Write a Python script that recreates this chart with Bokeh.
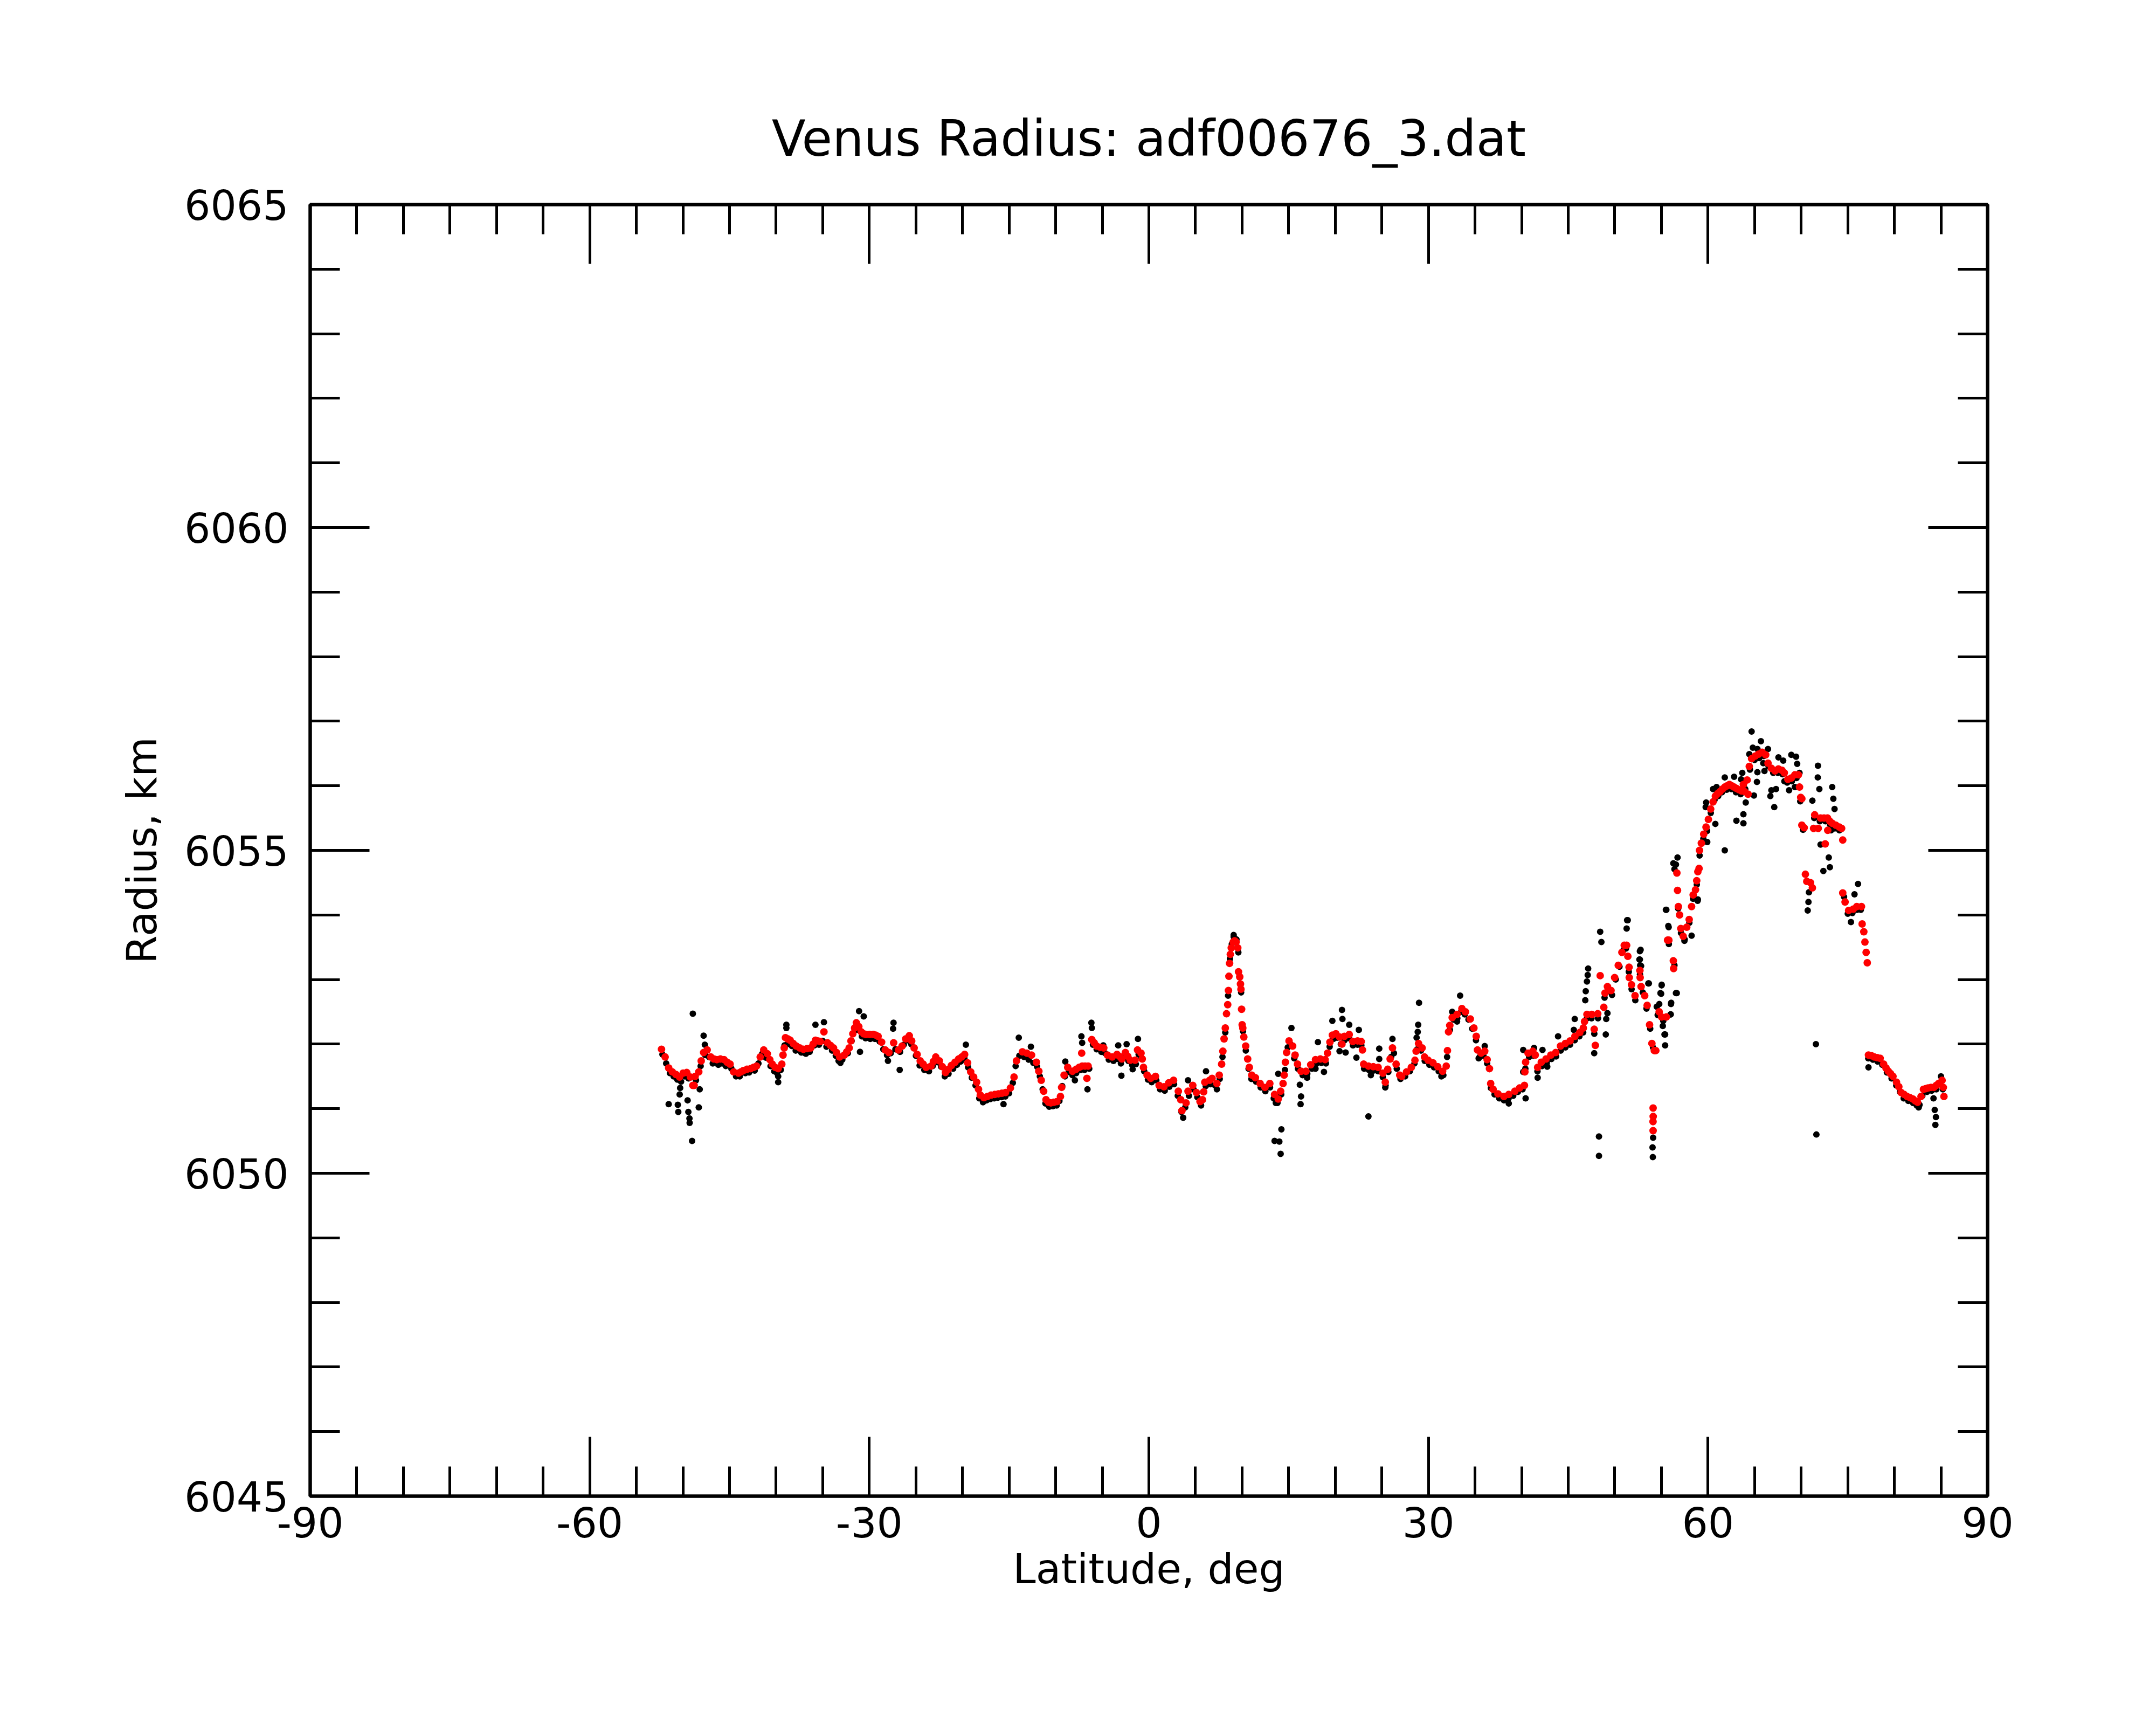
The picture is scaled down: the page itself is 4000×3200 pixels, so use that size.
from bokeh.plotting import figure
from bokeh.models import FixedTicker, LinearAxis, Range1d
from bokeh.embed import file_html
from bokeh.resources import INLINE

TITLE = "Venus Radius: adf00676_3.dat"
X_LABEL = "Latitude, deg"
Y_LABEL = "Radius, km"
x_major = [-90, -60, -30, 0, 30, 60, 90]
x_major_text = ["-90", "-60", "-30", "0", "30", "60", "90"]
x_minor = [-90, -85, -80, -75, -70, -65, -60, -55, -50, -45, -40, -35, -30, -25, -20, -15, -10, -5,
           0, 5, 10, 15, 20, 25, 30, 35, 40, 45, 50, 55, 60, 65, 70, 75, 80, 85, 90]
y_major = [6045, 6050, 6055, 6060, 6065]
y_major_text = ["6045", "6050", "6055", "6060", "6065"]
y_minor = [6045, 6046, 6047, 6048, 6049, 6050, 6051, 6052, 6053, 6054, 6055, 6056, 6057, 6058, 6059,
           6060, 6061, 6062, 6063, 6064, 6065]

# red (smoothed) series, latitude / radius pairs, split by region
red_south = [
    (-52.30, 6051.92), (-51.91, 6051.80), (-51.53, 6051.63), (-51.14, 6051.57), (-50.75, 6051.53),
    (-50.36, 6051.49), (-49.98, 6051.55), (-49.59, 6051.56), (-49.20, 6051.49), (-48.94, 6051.36),
    (-48.80, 6051.36), (-48.69, 6051.50), (-48.30, 6051.57), (-48.04, 6051.74), (-47.78, 6051.87),
    (-47.40, 6051.91), (-47.01, 6051.80), (-46.68, 6051.77), (-46.36, 6051.76), (-45.98, 6051.77),
    (-45.59, 6051.76), (-45.26, 6051.72), (-44.94, 6051.69), (-44.56, 6051.57), (-44.04, 6051.55),
    (-43.78, 6051.57), (-43.52, 6051.59), (-43.13, 6051.61), (-42.75, 6051.62), (-42.42, 6051.64),
    (-42.10, 6051.66), (-41.71, 6051.80), (-41.33, 6051.91), (-40.94, 6051.85), (-40.68, 6051.76),
    (-40.42, 6051.69), (-40.10, 6051.64), (-39.78, 6051.62), (-39.39, 6051.69), (-39.26, 6051.83),
    (-39.13, 6051.94), (-39.00, 6052.10), (-38.75, 6052.08), (-38.49, 6052.06), (-38.17, 6052.01),
    (-37.84, 6051.97), (-37.46, 6051.94), (-37.07, 6051.92), (-36.68, 6051.93), (-36.29, 6051.94),
    (-36.03, 6052.00), (-35.78, 6052.06), (-35.52, 6052.05), (-35.26, 6052.04), (-34.87, 6052.19),
    (-34.49, 6052.02), (-34.17, 6051.98), (-33.84, 6051.94), (-33.52, 6051.87), (-33.19, 6051.80),
    (-32.68, 6051.83), (-32.42, 6051.88), (-32.16, 6051.94), (-31.97, 6052.05), (-31.77, 6052.16),
    (-31.58, 6052.25), (-31.39, 6052.33), (-31.13, 6052.27), (-30.87, 6052.19), (-30.61, 6052.16),
    (-30.35, 6052.15), (-29.97, 6052.15), (-29.58, 6052.15), (-29.32, 6052.14), (-29.06, 6052.12),
    (-28.68, 6052.03), (-28.29, 6051.91), (-27.90, 6051.87), (-27.39, 6052.02), (-26.87, 6051.91),
    (-26.48, 6051.97), (-26.09, 6052.08), (-25.71, 6052.13), (-25.45, 6052.05), (-25.19, 6051.94),
    (-24.87, 6051.84), (-24.54, 6051.74), (-24.22, 6051.69), (-23.90, 6051.64), (-23.38, 6051.66),
    (-23.12, 6051.73), (-22.87, 6051.80), (-22.48, 6051.74), (-22.16, 6051.65), (-21.83, 6051.56),
    (-21.51, 6051.61), (-21.19, 6051.67), (-20.80, 6051.72), (-20.41, 6051.77), (-20.09, 6051.80),
    (-19.77, 6051.84), (-19.45, 6051.71), (-19.12, 6051.57), (-18.80, 6051.49), (-18.48, 6051.41),
    (-18.28, 6051.30), (-18.09, 6051.21), (-17.70, 6051.17), (-17.32, 6051.19), (-16.93, 6051.21),
    (-16.54, 6051.22), (-16.15, 6051.23), (-15.77, 6051.24), (-15.38, 6051.25), (-14.86, 6051.32),
    (-14.47, 6051.49), (-14.21, 6051.74), (-13.57, 6051.88),
]
red_equator = [
    (-13.10, 6051.86), (-12.59, 6051.83), (-12.07, 6051.72), (-11.81, 6051.58), (-11.55, 6051.44),
    (-11.29, 6051.27), (-11.04, 6051.14), (-10.78, 6051.10), (-10.52, 6051.09), (-10.20, 6051.10),
    (-9.87, 6051.11), (-9.49, 6051.19), (-9.36, 6051.33), (-9.10, 6051.52), (-8.71, 6051.64),
    (-8.20, 6051.58), (-7.81, 6051.61), (-7.48, 6051.64), (-7.21, 6051.86), (-7.16, 6051.66),
    (-6.85, 6051.66), (-6.65, 6051.47), (-6.52, 6051.66), (-6.13, 6052.07), (-5.87, 6052.02),
    (-5.61, 6051.97), (-5.22, 6051.95), (-4.84, 6051.94), (-4.45, 6051.83), (-3.94, 6051.80),
    (-3.42, 6051.84), (-3.16, 6051.81), (-2.90, 6051.77), (-2.52, 6051.87), (-2.26, 6051.81),
    (-2.00, 6051.75), (-1.48, 6051.75), (-1.22, 6051.91), (-0.84, 6051.86), (-0.71, 6051.77),
    (-0.58, 6051.64), (-0.19, 6051.52), (0.20, 6051.47), (0.71, 6051.50), (1.10, 6051.36),
    (1.62, 6051.34), (2.13, 6051.40), (2.65, 6051.44), (3.16, 6051.27), (3.42, 6051.14),
    (3.55, 6050.97), (3.99, 6051.09), (4.20, 6051.27), (4.71, 6051.36), (5.10, 6051.25),
    (5.49, 6051.11), (5.75, 6051.14), (5.88, 6051.26), (6.00, 6051.41), (6.52, 6051.44),
    (6.78, 6051.47), (7.30, 6051.39), (7.55, 6051.52), (7.81, 6051.69), (7.94, 6051.89),
    (8.07, 6052.08), (8.20, 6052.25), (8.33, 6052.47), (8.46, 6052.61), (8.54, 6052.83),
    (8.59, 6053.05), (8.66, 6053.25), (8.74, 6053.39), (8.84, 6053.49), (9.05, 6053.58),
    (9.20, 6053.60), (9.36, 6053.58), (9.54, 6053.49), (9.62, 6053.12), (9.75, 6053.04),
    (9.83, 6052.93), (9.88, 6052.85), (9.95, 6052.54), (10.01, 6052.30), (10.08, 6052.25),
    (10.19, 6052.11), (10.39, 6051.97), (10.60, 6051.77), (10.78, 6051.64), (11.04, 6051.52),
    (11.43, 6051.48), (11.94, 6051.39), (12.46, 6051.33), (12.98, 6051.39), (13.49, 6051.22),
    (13.88, 6051.15), (14.14, 6051.27), (14.40, 6051.39), (14.52, 6051.52), (14.65, 6051.72),
    (14.78, 6051.87), (15.04, 6052.05), (15.43, 6051.97), (15.69, 6051.83), (15.95, 6051.69),
    (16.33, 6051.58), (16.85, 6051.58), (17.37, 6051.68), (17.88, 6051.76), (18.40, 6051.77),
    (18.91, 6051.76), (19.17, 6051.86), (19.43, 6052.03), (19.69, 6052.14), (20.07, 6052.16),
    (20.46, 6052.11), (20.72, 6052.00), (20.98, 6052.12), (21.50, 6052.15), (21.88, 6052.04),
    (22.40, 6052.05), (22.79, 6052.04), (22.92, 6051.91), (23.05, 6051.69), (23.56, 6051.66),
    (24.08, 6051.65), (24.60, 6051.64), (25.11, 6051.55), (25.37, 6051.41), (25.63, 6051.61),
    (25.89, 6051.77), (26.14, 6051.94), (26.53, 6051.69), (26.92, 6051.52),
]
red_mid_north = [
    (27.13, 6051.50), (27.65, 6051.57), (28.16, 6051.64), (28.55, 6051.75), (28.68, 6051.89),
    (28.94, 6052.01), (29.32, 6051.94), (29.58, 6051.80), (29.97, 6051.75), (30.49, 6051.71),
    (31.00, 6051.65), (31.52, 6051.58), (31.91, 6051.66), (32.04, 6051.90), (32.16, 6052.19),
    (32.29, 6052.29), (32.55, 6052.41), (33.07, 6052.46), (33.59, 6052.55), (33.97, 6052.50),
    (34.49, 6052.39), (34.88, 6052.25), (35.13, 6052.12), (35.26, 6051.91), (35.65, 6051.86),
    (36.04, 6051.89), (36.30, 6051.76), (36.55, 6051.62), (36.68, 6051.39), (36.94, 6051.30),
    (37.46, 6051.23), (38.10, 6051.19), (38.62, 6051.22), (39.27, 6051.27), (39.78, 6051.32),
    (40.30, 6051.36), (40.35, 6051.57), (40.43, 6051.72), (40.69, 6051.86), (41.20, 6051.89),
    (41.46, 6051.83), (41.72, 6051.64), (42.11, 6051.72), (42.62, 6051.77), (43.14, 6051.83),
    (43.66, 6051.87), (44.17, 6051.97), (44.69, 6052.01), (45.20, 6052.05), (45.72, 6052.12),
    (46.24, 6052.18), (46.62, 6052.25), (46.75, 6052.35), (47.01, 6052.46), (47.53, 6052.46),
    (47.79, 6052.23), (47.91, 6051.98), (48.17, 6052.47), (48.43, 6053.06), (48.82, 6052.57),
    (48.95, 6052.79), (49.21, 6052.89), (49.59, 6052.83), (49.98, 6053.03), (50.37, 6053.22),
    (50.76, 6053.42), (51.01, 6053.53), (51.27, 6053.53), (51.40, 6053.36), (51.53, 6053.19),
    (51.55, 6053.03), (51.79, 6052.92), (52.17, 6052.75), (52.69, 6053.14), (52.72, 6053.03),
    (52.82, 6052.89), (53.21, 6052.75), (53.47, 6052.60), (53.73, 6052.30), (53.98, 6052.01),
    (54.11, 6051.01), (54.12, 6050.88), (54.10, 6050.80), (54.11, 6050.66), (54.24, 6051.90),
    (54.40, 6051.90), (54.76, 6052.50), (55.02, 6052.42), (55.53, 6052.42),
]
red_north = [
    (55.66, 6053.61), (55.80, 6053.61), (56.28, 6053.29), (56.31, 6053.17), (56.66, 6054.65),
    (56.73, 6054.38), (56.82, 6054.13), (56.95, 6054.00), (57.08, 6053.79), (57.34, 6053.67),
    (57.72, 6053.81), (57.98, 6053.93), (58.24, 6054.13), (58.41, 6054.31), (58.66, 6054.39),
    (58.79, 6054.53), (58.91, 6054.67), (59.04, 6054.72), (59.09, 6055.00), (59.29, 6055.11),
    (59.54, 6055.25), (59.79, 6055.36), (60.04, 6055.48), (60.29, 6055.64), (60.54, 6055.75),
    (60.79, 6055.84), (61.04, 6055.88), (61.29, 6055.91), (61.55, 6055.95), (61.80, 6055.98),
    (62.05, 6056.00), (62.30, 6056.02), (62.55, 6056.00), (62.80, 6055.98), (63.05, 6055.96),
    (63.30, 6055.94), (63.60, 6055.92), (63.80, 6056.02), (63.93, 6055.91), (64.20, 6056.09),
    (64.30, 6055.87), (64.43, 6056.30), (64.68, 6056.42), (65.06, 6056.46), (65.43, 6056.49),
    (65.81, 6056.52), (66.19, 6056.48), (66.44, 6056.35), (66.81, 6056.27), (67.19, 6056.23),
    (67.56, 6056.26), (67.94, 6056.24), (68.19, 6056.20), (68.57, 6056.10), (68.94, 6056.12),
    (69.32, 6056.17), (69.70, 6056.17), (69.82, 6055.98), (69.95, 6055.82), (70.07, 6055.80),
    (70.07, 6055.39), (70.32, 6055.35), (70.45, 6054.63), (70.60, 6054.52), (71.00, 6054.50),
    (71.20, 6054.42), (71.33, 6055.34), (71.45, 6055.55), (71.83, 6055.34), (72.08, 6055.50),
    (72.45, 6055.50), (72.58, 6055.10), (72.83, 6055.50), (72.85, 6055.31), (73.08, 6055.45),
    (73.33, 6055.42), (73.71, 6055.39), (74.09, 6055.36), (74.34, 6055.34), (74.46, 6055.16),
    (74.46, 6054.34), (74.71, 6054.20), (75.09, 6054.07), (75.59, 6054.09), (75.97, 6054.13),
    (76.47, 6054.13), (76.54, 6053.86), (76.72, 6053.74), (76.84, 6053.58), (76.97, 6053.42),
    (77.09, 6053.26),
]
red_polar = [
    (77.22, 6051.83), (77.55, 6051.82), (77.85, 6051.80), (78.15, 6051.79), (78.47, 6051.78),
    (78.85, 6051.69), (79.10, 6051.63), (79.35, 6051.58), (79.60, 6051.54), (79.85, 6051.50),
    (80.23, 6051.41), (80.48, 6051.34), (80.73, 6051.25), (81.05, 6051.22), (81.36, 6051.19),
    (81.68, 6051.17), (81.99, 6051.15), (82.25, 6051.12), (82.49, 6051.10), (82.86, 6051.19),
    (83.12, 6051.30), (83.38, 6051.31), (83.62, 6051.32), (83.93, 6051.33), (84.24, 6051.33),
    (84.50, 6051.36), (84.74, 6051.39), (85.12, 6051.44), (85.25, 6051.33), (85.32, 6051.19),
]

# black (raw) series
black_band_south = [
    (-52.2, 6051.84), (-51.8, 6051.70), (-51.4, 6051.55), (-51.0, 6051.50), (-50.6, 6051.45),
    (-50.2, 6051.42), (-49.8, 6051.50), (-49.4, 6051.47), (-48.6, 6051.44), (-48.1, 6051.66),
    (-47.6, 6051.83), (-47.2, 6051.80), (-46.8, 6051.70), (-46.2, 6051.68), (-45.8, 6051.70),
    (-45.4, 6051.66), (-44.8, 6051.62), (-44.3, 6051.50), (-43.9, 6051.50), (-43.3, 6051.55),
    (-42.9, 6051.56), (-42.3, 6051.59), (-41.9, 6051.70), (-41.5, 6051.85), (-41.1, 6051.79),
    (-40.6, 6051.66), (-40.2, 6051.58), (-39.9, 6051.55), (-39.5, 6051.60), (-39.1, 6051.98),
    (-38.8, 6052.00), (-38.3, 6051.97), (-37.9, 6051.90), (-37.3, 6051.87), (-36.9, 6051.86),
    (-36.4, 6051.88), (-35.9, 6051.98), (-35.4, 6051.99), (-35.0, 6052.05), (-34.6, 6051.96),
    (-34.0, 6051.90), (-33.6, 6051.82), (-33.3, 6051.74), (-32.9, 6051.76), (-32.3, 6051.86),
    (-31.9, 6052.05), (-31.5, 6052.22), (-31.2, 6052.22), (-30.8, 6052.12), (-30.4, 6052.09),
    (-29.9, 6052.08), (-29.4, 6052.08), (-28.9, 6052.04), (-28.5, 6051.92), (-28.1, 6051.83),
    (-27.7, 6051.86), (-27.2, 6051.92), (-26.7, 6051.88), (-26.3, 6051.99), (-25.9, 6052.06),
    (-25.5, 6052.00), (-25.0, 6051.82), (-24.6, 6051.67), (-24.1, 6051.60), (-23.6, 6051.58),
    (-23.2, 6051.66), (-22.7, 6051.72), (-22.3, 6051.65), (-21.9, 6051.50), (-21.5, 6051.54),
    (-21.0, 6051.62), (-20.6, 6051.68), (-20.2, 6051.73), (-19.8, 6051.78), (-19.4, 6051.64),
    (-19.0, 6051.48), (-18.6, 6051.36), (-18.2, 6051.16), (-17.8, 6051.10), (-17.4, 6051.13),
    (-17.0, 6051.15), (-16.6, 6051.16), (-16.2, 6051.17), (-15.8, 6051.18), (-15.4, 6051.19),
    (-15.0, 6051.24), (-14.6, 6051.40), (-14.3, 6051.66), (-13.9, 6051.82),
]
black_band_equator = [
    (-13.4, 6051.80), (-12.9, 6051.76), (-12.4, 6051.71), (-12.0, 6051.65), (-11.7, 6051.50),
    (-11.4, 6051.30), (-11.1, 6051.08), (-10.7, 6051.03), (-10.3, 6051.04), (-9.9, 6051.05),
    (-9.6, 6051.12), (-9.3, 6051.35), (-9.0, 6051.50), (-8.6, 6051.57), (-8.2, 6051.52),
    (-7.8, 6051.55), (-7.3, 6051.60), (-6.9, 6051.60), (-6.4, 6051.62), (-6.0, 6051.99),
    (-5.6, 6051.92), (-5.1, 6051.88), (-4.7, 6051.86), (-4.3, 6051.76), (-3.8, 6051.74),
    (-3.4, 6051.77), (-3.0, 6051.70), (-2.6, 6051.80), (-2.2, 6051.74), (-1.8, 6051.68),
    (-1.4, 6051.69), (-1.1, 6051.84), (-0.8, 6051.79), (-0.5, 6051.58), (-0.1, 6051.45),
    (0.3, 6051.41), (0.8, 6051.44), (1.2, 6051.30), (1.7, 6051.28), (2.2, 6051.34),
    (2.7, 6051.38), (3.1, 6051.20), (3.5, 6050.95), (3.9, 6051.02), (4.3, 6051.20),
    (4.8, 6051.30), (5.2, 6051.18), (5.6, 6051.05), (6.1, 6051.35), (6.6, 6051.38),
    (7.1, 6051.36), (7.6, 6051.46), (7.9, 6051.80), (8.2, 6052.18), (8.5, 6052.75),
    (8.7, 6053.32), (8.9, 6053.55), (9.1, 6053.66), (9.4, 6053.62), (9.6, 6053.42),
    (9.9, 6052.80), (10.1, 6052.20), (10.4, 6051.90), (10.7, 6051.62), (11.0, 6051.46),
    (11.5, 6051.42), (12.0, 6051.33), (12.5, 6051.27), (13.0, 6051.33), (13.4, 6051.16),
    (13.8, 6051.09), (14.2, 6051.22), (14.6, 6051.60), (14.9, 6051.95), (15.2, 6052.00),
    (15.6, 6051.78), (16.0, 6051.62), (16.5, 6051.52), (17.0, 6051.54), (17.5, 6051.62),
    (18.0, 6051.70), (18.5, 6051.71), (19.0, 6051.70), (19.4, 6051.96), (19.8, 6052.08),
    (20.2, 6052.10), (20.6, 6052.00), (21.0, 6052.06), (21.5, 6052.09), (21.9, 6051.98),
    (22.4, 6051.99), (22.8, 6051.98), (23.1, 6051.62), (23.6, 6051.60), (24.1, 6051.59),
    (24.6, 6051.58), (25.1, 6051.49), (25.4, 6051.36), (25.7, 6051.57), (26.0, 6051.80),
    (26.3, 6051.86), (26.6, 6051.62),
]
black_band_north = [
    (27.0, 6051.46), (27.5, 6051.50), (28.0, 6051.58), (28.5, 6051.70), (28.8, 6051.92),
    (29.2, 6051.90), (29.6, 6051.74), (30.1, 6051.68), (30.6, 6051.64), (31.1, 6051.58),
    (31.6, 6051.52), (32.0, 6051.80), (32.3, 6052.22), (32.7, 6052.38), (33.1, 6052.40),
    (33.5, 6052.50), (33.9, 6052.46), (34.3, 6052.38), (34.7, 6052.24), (35.1, 6052.06),
    (35.5, 6051.80), (35.9, 6051.82), (36.3, 6051.70), (36.7, 6051.32), (37.1, 6051.22),
    (37.6, 6051.16), (38.1, 6051.13), (38.6, 6051.16), (39.1, 6051.20), (39.6, 6051.26),
    (40.1, 6051.30), (40.4, 6051.62), (40.8, 6051.80), (41.3, 6051.82), (41.7, 6051.58),
    (42.2, 6051.66), (42.7, 6051.71), (43.2, 6051.77), (43.7, 6051.81), (44.2, 6051.90),
    (44.7, 6051.95), (45.2, 6051.99), (45.7, 6052.06), (46.2, 6052.12), (46.6, 6052.18),
    (47.0, 6052.40), (47.5, 6052.40), (47.8, 6052.16), (48.2, 6052.40), (48.9, 6052.72),
    (49.3, 6052.82), (49.7, 6052.76), (50.1, 6053.00), (50.5, 6053.20), (50.9, 6053.45),
    (51.2, 6053.48), (51.5, 6053.12), (51.8, 6052.85), (52.2, 6052.68), (52.7, 6053.08),
    (53.0, 6052.80), (53.4, 6052.55), (53.8, 6052.24), (54.1, 6051.95), (54.6, 6052.45),
    (55.2, 6052.36), (55.8, 6053.55), (56.4, 6053.22), (56.8, 6054.10), (57.1, 6053.72),
    (57.5, 6053.62), (58.0, 6053.88), (58.4, 6054.25), (58.8, 6054.47), (59.1, 6054.92),
    (59.5, 6055.18), (59.9, 6055.30), (60.3, 6055.58), (60.7, 6055.78), (61.1, 6055.84),
    (61.5, 6055.90), (62.0, 6055.94), (62.5, 6055.95), (63.0, 6055.90), (63.5, 6055.87),
    (64.0, 6055.95), (64.5, 6056.25), (65.0, 6056.40), (65.5, 6056.43), (66.0, 6056.46),
    (66.5, 6056.30), (67.0, 6056.20), (67.5, 6056.20), (68.0, 6056.18), (68.5, 6056.05),
    (69.0, 6056.07), (69.5, 6056.12), (69.9, 6055.76), (70.2, 6055.32), (71.4, 6055.50),
    (72.0, 6055.45), (72.6, 6055.45), (73.1, 6055.40), (73.6, 6055.34), (74.1, 6055.31),
    (74.6, 6054.28), (75.0, 6054.02), (75.5, 6054.03), (76.0, 6054.08), (76.4, 6054.08),
    (77.2, 6051.78), (77.7, 6051.76), (78.2, 6051.73), (78.7, 6051.68), (79.2, 6051.56),
    (79.7, 6051.47), (80.2, 6051.36), (80.6, 6051.26), (81.0, 6051.16), (81.5, 6051.12),
    (82.0, 6051.09), (82.4, 6051.05), (82.7, 6051.06), (83.0, 6051.20), (83.5, 6051.26),
    (84.0, 6051.28), (84.5, 6051.30), (84.9, 6051.38), (85.2, 6051.30),
]
black_outliers_south = [
    (-48.94, 6052.47), (-51.53, 6051.07), (-50.55, 6051.06), (-50.50, 6050.95), (-50.30, 6051.32),
    (-50.35, 6051.22), (-49.50, 6051.13), (-49.42, 6050.95), (-49.30, 6050.85), (-49.28, 6050.78),
    (-49.02, 6050.50), (-48.20, 6051.30), (-48.30, 6051.02), (-47.78, 6052.13), (-47.65, 6051.99),
    (-39.78, 6051.50), (-39.78, 6051.41), (-38.90, 6052.30), (-38.90, 6052.25), (-35.78, 6052.30),
    (-34.87, 6052.34), (-31.10, 6052.51), (-30.60, 6052.43), (-27.40, 6052.33), (-27.45, 6052.24),
    (-26.74, 6051.60), (-31.00, 6051.88), (-19.64, 6051.99), (-15.60, 6051.07), (-13.96, 6052.10),
    (-28.00, 6051.74), (-33.10, 6051.71), (-36.80, 6051.85),
]
black_outliers_equator = [
    (-12.66, 6051.96), (-8.97, 6051.73), (-7.94, 6051.44), (-7.24, 6052.12), (-7.16, 6052.02),
    (-6.59, 6051.30), (-6.17, 6052.33), (-6.12, 6052.25), (-4.89, 6051.98), (-3.29, 6051.98),
    (-2.95, 6051.51), (-2.39, 6052.00), (-1.74, 6051.61), (-1.17, 6052.08), (3.68, 6050.86),
    (4.20, 6051.44), (6.13, 6051.58), (7.30, 6051.30), (9.10, 6053.69), (13.62, 6051.09),
    (13.88, 6051.54), (14.22, 6050.68), (13.49, 6050.50), (14.00, 6050.49), (14.14, 6050.30),
    (15.30, 6052.25), (16.20, 6051.37), (16.33, 6051.19), (16.28, 6051.07), (16.98, 6051.48),
    (17.88, 6051.62), (18.14, 6052.03), (18.79, 6051.57), (19.69, 6052.36), (20.46, 6051.89),
    (20.72, 6052.53), (20.77, 6052.39), (21.50, 6052.30), (21.11, 6051.87), (22.27, 6051.79),
    (22.53, 6052.22), (23.56, 6050.88), (23.82, 6051.52), (24.72, 6051.93), (24.72, 6051.77),
    (25.37, 6051.33), (26.14, 6052.08),
]
black_outliers_north = [
    (28.99, 6052.64), (28.90, 6052.30), (28.85, 6052.19), (28.73, 6052.10), (31.39, 6051.50),
    (33.40, 6052.75), (32.55, 6052.50), (33.07, 6052.35), (36.04, 6051.97), (35.39, 6051.78),
    (38.62, 6051.08), (40.43, 6051.16), (40.17, 6051.91), (41.33, 6051.94), (42.24, 6051.91),
    (40.17, 6051.57), (41.72, 6051.48), (42.75, 6051.65), (43.91, 6052.12), (45.70, 6052.39),
    (45.60, 6052.22), (47.14, 6053.17), (47.09, 6053.07), (47.01, 6052.97), (46.88, 6052.82),
    (46.83, 6052.68), (47.79, 6051.86), (48.43, 6053.74), (48.56, 6053.58), (48.30, 6050.57),
    (48.30, 6050.27), (49.21, 6052.48), (49.08, 6052.39), (49.03, 6052.15), (51.32, 6053.92),
    (51.27, 6053.79), (52.69, 6053.44), (52.69, 6053.31), (52.82, 6053.21), (53.60, 6052.94),
    (54.50, 6052.58), (55.02, 6052.91), (54.97, 6052.78), (55.15, 6052.28), (55.33, 6052.15),
    (55.40, 6051.98), (56.05, 6052.64), (56.00, 6052.46), (56.56, 6052.79), (54.11, 6050.55),
    (54.05, 6050.40), (54.08, 6050.25), (55.53, 6054.08), (55.74, 6053.83), (57.47, 6053.60),
    (58.24, 6053.68), (58.89, 6054.22), (56.56, 6054.78), (53.65, 6052.94), (55.03, 6052.92),
    (56.65, 6052.79), (56.03, 6052.62), (55.98, 6052.46), (55.40, 6052.15), (54.90, 6052.79),
    (54.77, 6052.62),
]
black_outliers_polar = [
    (64.68, 6056.84), (65.68, 6056.69), (64.81, 6056.59), (66.44, 6056.57), (64.43, 6056.49),
    (65.31, 6056.57), (65.93, 6056.35), (65.30, 6056.21), (65.25, 6056.06), (66.06, 6056.23),
    (67.56, 6056.44), (68.07, 6056.39), (68.94, 6056.48), (69.45, 6056.45), (69.57, 6056.34),
    (69.82, 6056.20), (68.20, 6056.07), (68.70, 6055.93), (69.32, 6055.98), (66.80, 6055.93),
    (67.30, 6055.95), (66.69, 6055.84), (67.11, 6055.67), (61.80, 6056.13), (62.80, 6056.14),
    (63.68, 6056.20), (63.55, 6056.10), (60.54, 6055.95), (60.92, 6055.98), (59.80, 6055.74),
    (59.75, 6055.67), (64.05, 6055.74), (64.93, 6055.85), (63.80, 6055.56), (63.05, 6055.46),
    (63.80, 6055.42), (60.79, 6055.41), (59.92, 6055.13), (61.80, 6055.00), (71.80, 6056.31),
    (71.78, 6056.13), (71.95, 6055.95), (71.20, 6055.77), (73.33, 6055.98), (73.45, 6055.80),
    (73.58, 6055.64), (73.20, 6055.31), (72.08, 6055.09), (72.96, 6054.89), (73.08, 6054.74),
    (72.38, 6054.68), (70.83, 6054.35), (70.78, 6054.20), (70.70, 6054.07), (76.10, 6054.48),
    (75.72, 6054.32), (75.34, 6053.89), (56.73, 6054.89), (56.28, 6054.80), (56.40, 6054.71),
    (55.48, 6054.08), (55.78, 6053.81), (58.91, 6054.24), (51.39, 6053.92), (52.77, 6053.46),
    (52.64, 6053.31), (52.72, 6053.22), (77.22, 6051.64), (79.60, 6051.55), (82.61, 6051.02),
    (84.20, 6051.16), (84.33, 6050.98), (84.46, 6050.87), (84.40, 6050.75), (85.00, 6051.50),
    (71.58, 6052.00), (71.63, 6050.60),
]

red_all = red_south + red_equator + red_mid_north + red_north + red_polar
black_all = (black_band_south + black_band_equator + black_band_north + black_outliers_south
             + black_outliers_equator + black_outliers_north + black_outliers_polar)
lat_red = [a for a, b in red_all]
rad_red = [b for a, b in red_all]
lat_black = [a for a, b in black_all]
rad_black = [b for a, b in black_all]

FONT = "DejaVu Sans"

p = figure(frame_width=3112, frame_height=2396,
           x_range=Range1d(-90, 90), y_range=Range1d(6045, 6065),
           output_backend="svg", toolbar_location=None,
           min_border_left=575, min_border_top=379, min_border_right=297, min_border_bottom=409,
           background_fill_color="white", border_fill_color="white")
p.grid.visible = False
p.outline_line_color = "black"
p.outline_line_width = 6

p.title.text = TITLE
p.title.align = "center"
p.title.text_font = FONT
p.title.text_font_size = "92px"
p.title.text_font_style = "normal"
p.title.text_color = "black"
p.title.standoff = 138

def style_axis(ax, ticks, tick_text, minor, show_labels):
    ax.ticker = FixedTicker(ticks=ticks, minor_ticks=minor)
    ax.axis_line_width = 6
    ax.axis_line_color = "black"
    ax.major_tick_in = 110
    ax.major_tick_out = 0
    ax.minor_tick_in = 55
    ax.minor_tick_out = 0
    ax.major_tick_line_width = 5
    ax.minor_tick_line_width = 5
    ax.major_tick_line_color = "black"
    ax.minor_tick_line_color = "black"
    ax.major_label_text_font = FONT
    ax.major_label_text_color = "black"
    ax.axis_label_text_font = FONT
    ax.axis_label_text_font_size = "76px"
    ax.axis_label_text_font_style = "normal"
    ax.axis_label_text_color = "black"
    if show_labels:
        ax.major_label_text_font_size = "76px"
        ax.major_label_overrides = {t: s for t, s in zip(ticks, tick_text)}
    else:
        ax.major_label_text_font_size = "1px"
        ax.major_label_standoff = 0
        ax.major_label_overrides = {t: "" for t in ticks}

xb = p.xaxis[0]
style_axis(xb, x_major, x_major_text, x_minor, True)
xb.axis_label = X_LABEL
xb.major_label_standoff = 20
xb.axis_label_standoff = 11

yl = p.yaxis[0]
style_axis(yl, y_major, y_major_text, y_minor, True)
yl.axis_label = Y_LABEL
yl.major_label_standoff = 40
yl.axis_label_standoff = 31

xt = LinearAxis()
style_axis(xt, x_major, x_major_text, x_minor, False)
p.add_layout(xt, "above")
yr = LinearAxis()
style_axis(yr, y_major, y_major_text, y_minor, False)
p.add_layout(yr, "right")

p.scatter(lat_black, rad_black, marker="circle", size=12, fill_color="black", line_color=None)
p.scatter(lat_red, rad_red, marker="circle", size=14, fill_color="#ff0000", line_color=None)

open("out.html", "w").write(file_html(p, INLINE))
